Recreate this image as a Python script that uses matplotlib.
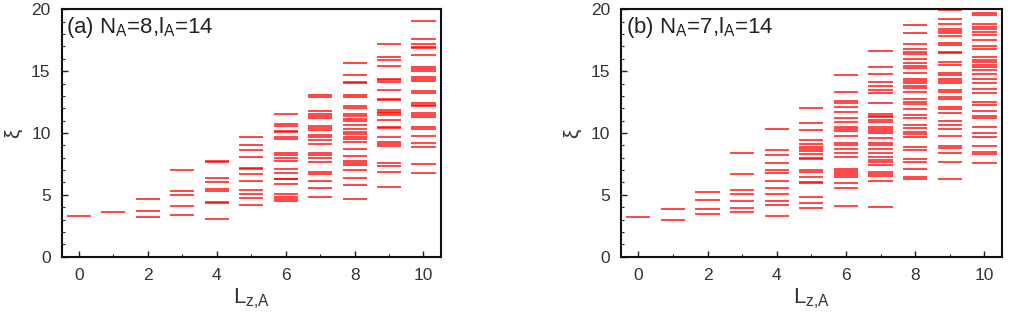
import matplotlib
matplotlib.use("Agg")
import matplotlib.pyplot as plt
from matplotlib.ticker import MultipleLocator

plt.rcParams['font.family'] = ['Liberation Sans', 'DejaVu Sans']
plt.rcParams['mathtext.fontset'] = 'custom'
plt.rcParams['mathtext.rm'] = 'Liberation Sans'
plt.rcParams['mathtext.it'] = 'Liberation Sans:italic'

lz_values = list(range(11))

# Panel (a): N_A=8, l_A=14 -- entanglement levels xi per L_z,A
levels_a = [
    [3.29],
    [3.61],
    [4.64, 3.69, 3.21],
    [6.98, 5.28, 4.99, 4.07, 3.34],
    [7.75, 7.65, 6.33, 6.01, 5.50, 5.31, 4.45, 4.38, 3.05],
    [9.70, 9.00, 8.60, 8.06, 7.16, 7.08, 6.66, 6.15, 5.42, 5.09, 4.74, 4.20],
    [11.51, 10.73, 10.54, 10.20, 10.08, 9.68, 9.54, 8.41, 8.19, 7.98, 7.71,
     7.12, 6.79, 6.31, 6.25, 5.90, 5.04, 4.85, 4.66, 4.47],
    [13.07, 12.94, 11.78, 11.56, 11.37, 11.21, 10.57, 10.40, 10.22, 9.87, 9.70,
     9.41, 9.11, 8.41, 8.19, 7.95, 7.65, 6.87, 6.71, 6.09, 5.53, 4.82],
    [15.63, 14.72, 14.15, 14.04, 13.07, 12.94, 12.18, 12.02, 11.54, 11.35,
     11.16, 10.94, 10.67, 10.32, 10.05, 9.89, 9.68, 9.54, 9.25, 8.71, 8.17,
     7.76, 7.55, 7.41, 7.01, 6.36, 5.80, 4.64],
    [17.20, 16.17, 15.90, 15.39, 14.39, 14.29, 14.10, 13.48, 12.78, 12.64,
     11.86, 11.73, 11.59, 11.46, 11.08, 10.49, 10.38, 9.65, 9.30, 9.14, 8.98,
     7.57, 7.36, 6.85, 5.66],
    [19.08, 17.63, 17.20, 16.95, 16.85, 16.28, 15.36, 15.20, 15.04, 14.50,
     14.34, 14.18, 13.42, 13.26, 12.40, 12.28, 12.18, 11.59, 11.46, 11.32,
     10.51, 10.35, 9.78, 9.16, 8.87, 7.49, 6.79],
]

# Panel (b): N_A=7, l_A=14
levels_b = [
    [3.23],
    [3.83, 2.99],
    [5.20, 4.61, 3.88, 3.42],
    [8.38, 6.71, 5.42, 5.07, 4.50, 3.96, 3.61],
    [10.35, 8.60, 8.19, 7.55, 7.01, 6.79, 6.12, 5.55, 5.04, 4.53, 4.18, 3.32],
    [12.05, 10.78, 10.27, 9.43, 9.08, 8.89, 8.71, 8.52, 8.30, 7.95, 7.87,
     7.01, 6.85, 6.42, 6.01, 5.93, 4.80, 4.34, 3.94],
    [14.66, 13.32, 12.61, 12.40, 12.13, 11.70, 11.21, 10.86, 10.51, 10.32,
     10.16, 9.76, 9.22, 9.06, 8.73, 8.38, 8.06, 7.06, 6.90, 6.74, 6.58, 6.47,
     5.93, 5.53, 4.12],
    [16.63, 15.36, 14.80, 14.15, 13.83, 13.48, 13.21, 12.43, 11.56, 11.40,
     11.27, 11.08, 10.89, 10.51, 10.35, 10.16, 9.97, 9.60, 9.22, 9.00, 8.68,
     8.41, 8.09, 7.84, 7.65, 7.41, 6.87, 6.71, 6.52, 6.15, 3.99],
    [18.73, 18.11, 17.22, 16.77, 16.58, 16.39, 15.98, 15.63, 15.42, 15.26,
     14.88, 14.34, 14.18, 14.02, 13.83, 13.64, 13.34, 12.78, 12.53, 12.35,
     11.97, 11.43, 11.19, 10.65, 10.38, 10.11, 9.89, 9.70, 8.89, 8.63, 7.87,
     7.63, 7.06, 6.42, 6.25],
    [19.95, 19.22, 18.79, 18.44, 18.27, 18.06, 17.87, 17.30, 17.14, 16.58,
     16.44, 15.71, 15.50, 14.88, 14.69, 14.34, 14.18, 14.02, 13.48, 13.32,
     12.94, 12.72, 12.13, 11.97, 11.59, 10.94, 10.67, 10.32, 9.76, 8.98, 8.76,
     8.41, 7.65, 6.31],
    [19.73, 19.54, 18.79, 18.60, 18.38, 18.17, 17.90, 17.52, 17.03, 16.82,
     16.12, 15.90, 15.70, 15.50, 15.30, 15.10, 14.77, 14.34, 14.07, 13.53,
     13.26, 12.53, 12.29, 11.81, 11.40, 11.19, 10.51, 9.97, 9.70, 8.95, 8.49,
     8.30, 7.55],
]

labels = [r'(a) N$_{\rm A}$=8,l$_{\rm A}$=14', r'(b) N$_{\rm A}$=7,l$_{\rm A}$=14']
xticks = [0, 2, 4, 6, 8, 10]
yticks = [0, 5, 10, 15, 20]

W, H = 1017, 323
fig = plt.figure(figsize=(W / 100, H / 100), dpi=100)
boxes = [(61.7, 440.7), (621.0, 1001.7)]
top_px, bot_px = 9.3, 256.7
half = 0.35

for (l, r), levels, lab in zip(boxes, [levels_a, levels_b], labels):
    ax = fig.add_axes([l / W, 1 - bot_px / H, (r - l) / W, (bot_px - top_px) / H])
    for lz, lev in zip(lz_values, levels):
        ax.hlines(lev, lz - half, lz + half, colors='#ff0000', lw=1.3, alpha=0.78)
    ax.set_xlim(-0.5, 10.5)
    ax.set_ylim(0, 20)
    ax.set_xticks(xticks)
    ax.set_yticks(yticks)
    ax.xaxis.set_minor_locator(MultipleLocator(1))
    ax.yaxis.set_minor_locator(MultipleLocator(1))
    ax.tick_params(which='both', direction='in', colors='#222222', labelcolor='#333333',
                   labelsize=12.5, top=False, right=False)
    ax.tick_params(which='major', length=4, width=1, pad=8)
    ax.tick_params(which='minor', length=2, width=0.8)
    for s in ax.spines.values():
        s.set_linewidth(1.5)
        s.set_color('#111111')
    ax.set_xlabel(r'L$_{\rm z{,}A}$', fontsize=16, color='#333333', labelpad=3)
    ax.set_ylabel('ξ', fontsize=15, color='#333333')
    ax.yaxis.set_label_coords(-0.104, 0.5)
    ax.text(0.012, 0.975, lab, transform=ax.transAxes, ha='left', va='top',
            fontsize=16, color='#222222')

fig.savefig('out.png', dpi=100)
